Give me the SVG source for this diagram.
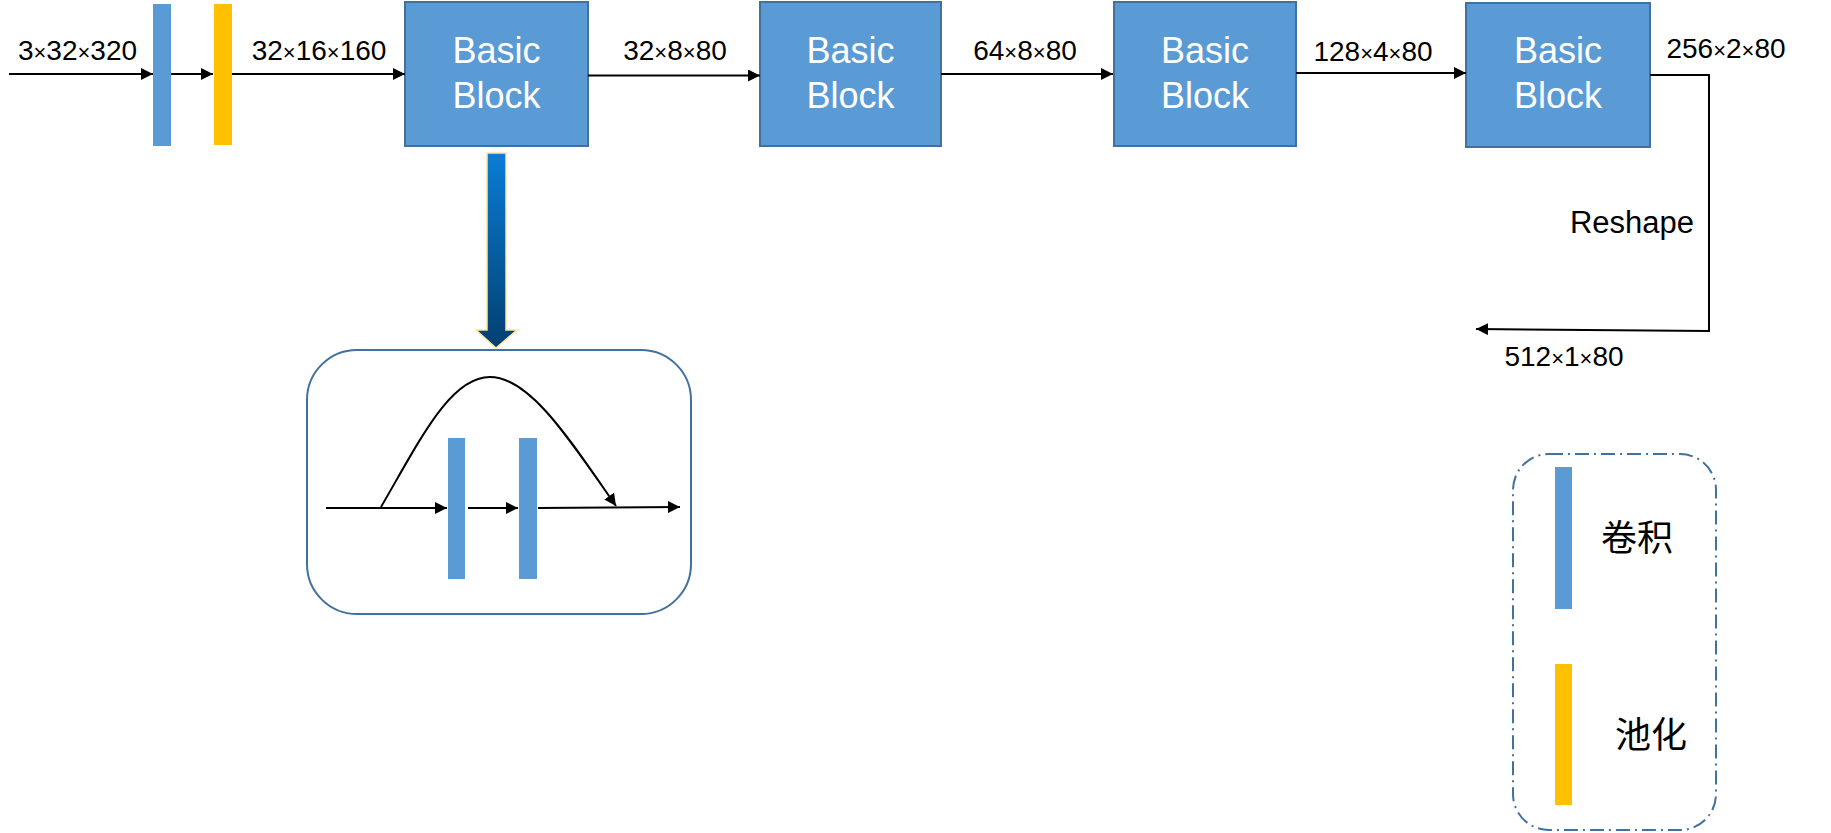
<svg xmlns="http://www.w3.org/2000/svg" width="1831" height="833" viewBox="0 0 1831 833">
<style>
.lbl{font-family:"Liberation Sans",Arial,sans-serif;font-size:28px;fill:#000;text-anchor:middle}
.x{font-size:22px}
.bt{font-family:"Liberation Sans",Arial,sans-serif;font-size:36px;fill:#fff;text-anchor:middle}
.blk{fill:#5B9BD5;stroke:#41719C;stroke-width:2}
.conv{fill:#5B9BD5}
.pool{fill:#FFC000}
.ln{fill:none;stroke:#000;stroke-width:2}
.cn{font-family:"Liberation Sans","Noto Sans CJK SC",sans-serif;font-size:36px;fill:#000;text-anchor:middle}
</style>
<defs>
<marker id="ah" viewBox="0 0 10 10" refX="10" refY="5" markerWidth="6" markerHeight="6" orient="auto">
<path d="M0,0 L10,5 L0,10 z" fill="#000"/>
</marker>
<linearGradient id="g" x1="0" y1="0" x2="0" y2="1">
<stop offset="0" stop-color="#0A7DD6"/>
<stop offset="1" stop-color="#023F70"/>
</linearGradient>
</defs>
<rect width="1831" height="833" fill="#fff"/>

<g id="conv1"><rect class="conv" x="153" y="4" width="18" height="142"/></g>
<g id="pool1"><rect class="pool" x="214" y="4" width="18" height="141"/></g>

<g id="block1">
<rect class="blk" x="405" y="2" width="183" height="144"/>
<text class="bt" x="496.5" y="63">Basic</text>
<text class="bt" x="496.5" y="108">Block</text>
</g>
<g id="block2">
<rect class="blk" x="760" y="2" width="181" height="144"/>
<text class="bt" x="850.5" y="63">Basic</text>
<text class="bt" x="850.5" y="108">Block</text>
</g>
<g id="block3">
<rect class="blk" x="1114" y="2" width="182" height="144"/>
<text class="bt" x="1205" y="63">Basic</text>
<text class="bt" x="1205" y="108">Block</text>
</g>
<g id="block4">
<rect class="blk" x="1466" y="3" width="184" height="144"/>
<text class="bt" x="1558" y="63">Basic</text>
<text class="bt" x="1558" y="108">Block</text>
</g>

<g id="connectors">
<line class="ln" x1="9" y1="74" x2="153" y2="74" marker-end="url(#ah)"/>
<line class="ln" x1="171" y1="74" x2="213" y2="74" marker-end="url(#ah)"/>
<line class="ln" x1="232" y1="74" x2="405" y2="74" marker-end="url(#ah)"/>
<line class="ln" x1="588" y1="75.5" x2="760" y2="75.5" marker-end="url(#ah)"/>
<line class="ln" x1="941" y1="74" x2="1113" y2="74" marker-end="url(#ah)"/>
<line class="ln" x1="1296" y1="73" x2="1466" y2="73" marker-end="url(#ah)"/>
<polyline class="ln" points="1650,75 1709,75 1709,331 1476,329" marker-end="url(#ah)"/>
</g>

<g id="labels">
<text class="lbl" x="77.5" y="60">3<tspan class="x">×</tspan>32<tspan class="x">×</tspan>320</text>
<text class="lbl" x="319" y="60">32<tspan class="x">×</tspan>16<tspan class="x">×</tspan>160</text>
<text class="lbl" x="675" y="60">32<tspan class="x">×</tspan>8<tspan class="x">×</tspan>80</text>
<text class="lbl" x="1025" y="60">64<tspan class="x">×</tspan>8<tspan class="x">×</tspan>80</text>
<text class="lbl" x="1373" y="61">128<tspan class="x">×</tspan>4<tspan class="x">×</tspan>80</text>
<text class="lbl" x="1726" y="58">256<tspan class="x">×</tspan>2<tspan class="x">×</tspan>80</text>
<text class="lbl" x="1632" y="233" style="font-size:31px">Reshape</text>
<text class="lbl" x="1564" y="366">512<tspan class="x">×</tspan>1<tspan class="x">×</tspan>80</text>
</g>

<g id="expand-arrow">
<polygon points="487,153 506,153 506,330 517,330 496,348 476,330 487,330" fill="url(#g)" stroke="#FFE699" stroke-width="1.5"/>
</g>

<g id="detail">
<rect x="307" y="350" width="384" height="264" rx="50" ry="50" fill="#fff" stroke="#41719C" stroke-width="2"/>
<rect class="conv" x="448" y="438" width="17" height="141"/>
<rect class="conv" x="519" y="438" width="18" height="141"/>
<line class="ln" x1="326" y1="508" x2="447" y2="508" marker-end="url(#ah)"/>
<line class="ln" x1="468" y1="508" x2="518" y2="508" marker-end="url(#ah)"/>
<line class="ln" x1="538" y1="508" x2="680" y2="507" marker-end="url(#ah)"/>
<path class="ln" d="M381,507 C420,440 450,377 490,377 C530,377 570,440 616,506" marker-end="url(#ah)"/>
</g>

<g id="legend">
<rect x="1513" y="454" width="203" height="376" rx="36" ry="36" fill="none" stroke="#41719C" stroke-width="2" stroke-dasharray="14,5,2,5"/>
<rect class="conv" x="1555" y="467" width="17" height="142"/>
<rect class="pool" x="1555" y="664" width="17" height="141"/>
<text class="cn" x="1637" y="551">卷积</text>
<text class="cn" x="1651" y="748">池化</text>
</g>
</svg>
